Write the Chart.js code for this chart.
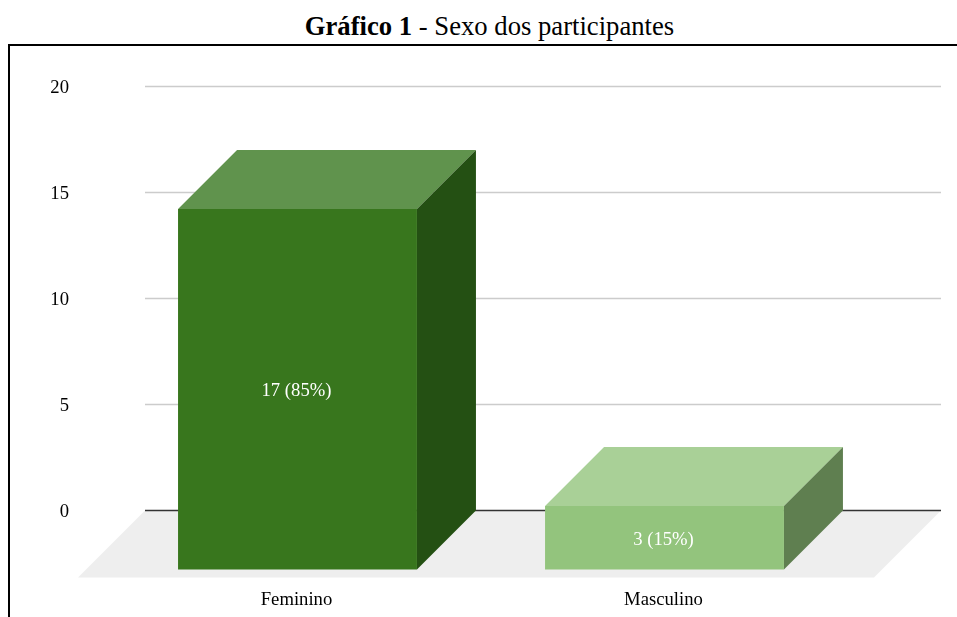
<!DOCTYPE html>
<html lang="pt">
<head>
<meta charset="utf-8">
<title>Sexo dos participantes</title>
<script src="https://cdn.jsdelivr.net/npm/chart.js"></script>
<style>
  html, body { margin: 0; padding: 0; background: #fff; overflow: hidden; }
  .page { position: relative; width: 957px; height: 617px; }
  .titulo {
    position: absolute; left: 0; top: 11px; width: 979px; text-align: center;
    font: 26.67px "Liberation Serif", serif; color: #000; line-height: 30px;
  }
  .moldura {
    position: absolute; left: 8px; top: 44px; width: 949px; height: 573px;
    box-sizing: border-box; border-left: 2px solid #000; border-top: 2px solid #000;
  }
  canvas { position: absolute; left: 0; top: 0; }
</style>
</head>
<body>
<div class="page">
  <div class="titulo"><b>Gráfico 1</b> - Sexo dos participantes</div>
  <div class="moldura"></div>
  <canvas id="sexo" width="957" height="617"></canvas>
</div>
<script>
const categorias = ["Feminino", "Masculino"];
const participantes = [17, 3];
const rotulos = ["17 (85%)", "3 (15%)"];
const corFrente = ["#38761d", "#93c47d"];
const corTopo = ["#60934d", "#a9d097"];
const corLado = ["#245013", "#5f7f50"];

// deslocamento do plano da frente em relacao ao plano de tras
const prof = 59;
const fonte = '"Liberation Serif", serif';

function poly(ctx, pts, cor) {
  ctx.fillStyle = cor;
  ctx.beginPath();
  pts.forEach((p, i) => i ? ctx.lineTo(p[0], p[1]) : ctx.moveTo(p[0], p[1]));
  ctx.closePath();
  ctx.fill();
}

const efeito3d = {
  id: "efeito3d",
  beforeDatasetsDraw(chart) {
    const { ctx, scales: { y } } = chart;
    const esq = 145, dir = 941, base = y.getPixelForValue(0);
    ctx.save();
    poly(ctx, [[esq, base], [dir, base], [dir - 67, base + 67], [esq - 67, base + 67]], "#eeeeee");
    y.ticks.forEach(t => {
      const py = y.getPixelForValue(t.value);
      ctx.strokeStyle = t.value === 0 ? "#333333" : "#cccccc";
      ctx.lineWidth = 1.5;
      ctx.beginPath();
      ctx.moveTo(esq, py);
      ctx.lineTo(dir, py);
      ctx.stroke();
    });
    // faces de cima e do lado, a partir das barras da propria biblioteca
    chart.getDatasetMeta(0).data.forEach((bar, i) => {
      const w = bar.width / 2;
      const x0 = bar.x - w, x1 = bar.x + w;
      poly(ctx, [[x0, bar.y + prof], [x1, bar.y + prof], [x1 + prof, bar.y], [x0 + prof, bar.y]], corTopo[i]);
      poly(ctx, [[x1, bar.y + prof], [x1 + prof, bar.y], [x1 + prof, base], [x1, base + prof]], corLado[i]);
    });
    ctx.restore();
  },
  beforeDatasetDraw(chart) {
    chart.ctx.save();
    chart.ctx.translate(0, prof);
  },
  afterDatasetDraw(chart) {
    chart.ctx.restore();
  },
  afterDatasetsDraw(chart) {
    const { ctx } = chart;
    ctx.save();
    ctx.fillStyle = "#ffffff";
    ctx.font = "18.67px " + fonte;
    ctx.textAlign = "center";
    ctx.textBaseline = "middle";
    chart.getDatasetMeta(0).data.forEach((bar, i) => {
      ctx.fillText(rotulos[i], bar.x - 1, (bar.y + bar.base) / 2 + prof + 2);
    });
    ctx.restore();
  }
};

new Chart(document.getElementById("sexo"), {
  type: "bar",
  data: {
    labels: categorias,
    datasets: [{
      label: "Participantes",
      data: participantes,
      backgroundColor: corFrente,
      borderWidth: 0,
      clip: false,
      categoryPercentage: 1,
      barPercentage: 0.651,
    }],
  },
  options: {
    responsive: false,
    animation: false,
    layout: { padding: { top: 86.5, right: 109 } },
    plugins: {
      legend: { display: false },
      tooltip: { enabled: false },
    },
    scales: {
      x: {
        grid: { display: false },
        border: { display: false },
        ticks: { color: "#000", padding: 70, labelOffset: -1, font: { family: fonte, size: 18.67 } },
        afterFit(scale) { scale.height = 106.5; },
      },
      y: {
        min: 0,
        max: 20,
        grid: { display: false, drawTicks: false },
        border: { display: false },
        ticks: { stepSize: 5, color: "#000", padding: 45, labelOffset: 2, font: { family: fonte, size: 18.67 } },
        afterFit(scale) { scale.width = 114; },
      },
    },
  },
  plugins: [efeito3d],
});
</script>
</body>
</html>
